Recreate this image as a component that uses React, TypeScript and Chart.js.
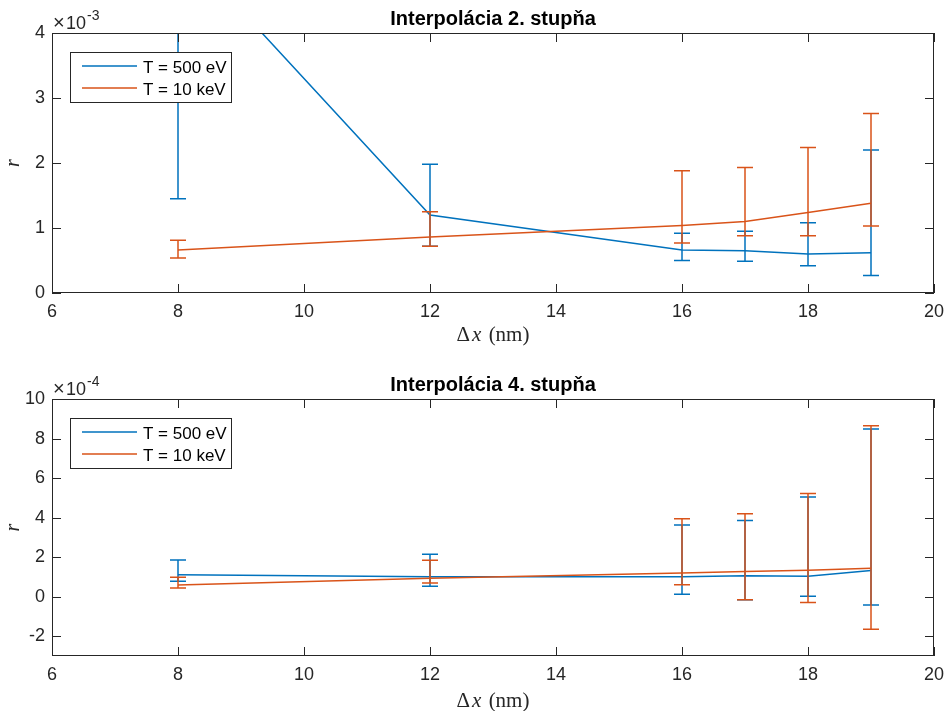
import React, { useEffect, useRef } from 'react';
import { Chart, registerables } from 'chart.js';

Chart.register(...registerables);

// ---------- data ----------
const X_VALUES = [8, 12, 16, 17, 18, 19];
const X_TICKS = [6, 8, 10, 12, 14, 16, 18, 20];
const LEGEND_LABELS = ['T = 500 eV', 'T = 10 keV'];
const SERIES_COLORS = ['#0072BD', '#D95319'];

// Interpolácia 2. stupňa (values in units of 10^-3)
const TITLE_DEG2 = 'Interpolácia 2. stupňa';
const Y_TICKS_DEG2 = [0, 1, 2, 3, 4];
const R500_DEG2 = [5.4, 1.2, 0.66, 0.65, 0.6, 0.62];
const R500_DEG2_LOW = [1.45, 0.72, 0.5, 0.49, 0.42, 0.27];
const R500_DEG2_HIGH = [9.35, 1.98, 0.92, 0.95, 1.08, 2.2];
const R10K_DEG2 = [0.66, 0.86, 1.04, 1.1, 1.24, 1.38];
const R10K_DEG2_LOW = [0.54, 0.72, 0.77, 0.88, 0.88, 1.03];
const R10K_DEG2_HIGH = [0.81, 1.25, 1.88, 1.93, 2.24, 2.76];

// Interpolácia 4. stupňa (values in units of 10^-4)
const TITLE_DEG4 = 'Interpolácia 4. stupňa';
const Y_TICKS_DEG4 = [-2, 0, 2, 4, 6, 8, 10];
const R500_DEG4 = [1.11, 1.01, 1.01, 1.06, 1.03, 1.32];
const R500_DEG4_LOW = [0.78, 0.53, 0.12, -0.15, 0.02, -0.42];
const R500_DEG4_HIGH = [1.86, 2.15, 3.63, 3.85, 5.04, 8.48];
const R10K_DEG4 = [0.59, 0.93, 1.2, 1.27, 1.34, 1.44];
const R10K_DEG4_LOW = [0.44, 0.69, 0.61, -0.15, -0.3, -1.65];
const R10K_DEG4_HIGH = [0.98, 1.84, 3.94, 4.19, 5.22, 8.65];

// ---------- styling ----------
const SANS = '"Liberation Sans", Arial, Helvetica, sans-serif';
const SERIF = '"Liberation Serif", "Times New Roman", serif';
const AXIS_COLOR = '#262626';
const TICK_LEN = 9;
const CAP_HALF = 8;

type Series = { values: number[]; low: number[]; high: number[] };
type Subplot = {
  title: string;
  exponent: string;
  yMin: number;
  yMax: number;
  yTicks: number[];
  series: Series[];
  height: number;
  areaTop: number;
  areaBottom: number;
  titleBaseline: number;
  xLabelBaseline: number;
};

const SUBPLOTS: Subplot[] = [
  {
    title: TITLE_DEG2,
    exponent: '-3',
    yMin: 0,
    yMax: 4,
    yTicks: Y_TICKS_DEG2,
    series: [
      { values: R500_DEG2, low: R500_DEG2_LOW, high: R500_DEG2_HIGH },
      { values: R10K_DEG2, low: R10K_DEG2_LOW, high: R10K_DEG2_HIGH },
    ],
    height: 355,
    areaTop: 33,
    areaBottom: 293,
    titleBaseline: 25,
    xLabelBaseline: 341,
  },
  {
    title: TITLE_DEG4,
    exponent: '-4',
    yMin: -3,
    yMax: 10,
    yTicks: Y_TICKS_DEG4,
    series: [
      { values: R500_DEG4, low: R500_DEG4_LOW, high: R500_DEG4_HIGH },
      { values: R10K_DEG4, low: R10K_DEG4_LOW, high: R10K_DEG4_HIGH },
    ],
    height: 356,
    areaTop: 44,
    areaBottom: 301,
    titleBaseline: 36,
    xLabelBaseline: 352,
  },
];

const errorBarPlugin = {
  id: 'errorBars',
  afterDatasetDraw(chart: any, args: any) {
    const ds = chart.data.datasets[args.index];
    const { ctx, chartArea, scales } = chart;
    ctx.save();
    ctx.beginPath();
    ctx.rect(chartArea.left, chartArea.top, chartArea.right - chartArea.left, chartArea.bottom - chartArea.top);
    ctx.clip();
    ctx.strokeStyle = ds.borderColor;
    ctx.lineWidth = ds.borderWidth;
    ds.data.forEach((p: any, i: number) => {
      const px = scales.x.getPixelForValue(p.x);
      const yl = scales.y.getPixelForValue(ds.errLow[i]);
      const yh = scales.y.getPixelForValue(ds.errHigh[i]);
      ctx.beginPath();
      ctx.moveTo(px, yl);
      ctx.lineTo(px, yh);
      ctx.moveTo(px - CAP_HALF, yl);
      ctx.lineTo(px + CAP_HALF, yl);
      ctx.moveTo(px - CAP_HALF, yh);
      ctx.lineTo(px + CAP_HALF, yh);
      ctx.stroke();
    });
    ctx.restore();
  },
};

function makeDecorPlugin(sp: Subplot) {
  return {
    id: 'decor',
    afterDraw(chart: any) {
      const { ctx, chartArea, scales } = chart;
      const { left, right, top, bottom } = chartArea;
      ctx.save();
      // box
      ctx.strokeStyle = AXIS_COLOR;
      ctx.lineWidth = 1;
      ctx.strokeRect(left + 0.5, top + 0.5, right - left - 1, bottom - top - 1);
      // ticks
      ctx.beginPath();
      scales.x.ticks.forEach((t: any) => {
        const px = Math.round(scales.x.getPixelForValue(t.value)) + 0.5;
        ctx.moveTo(px, bottom);
        ctx.lineTo(px, bottom - TICK_LEN);
        ctx.moveTo(px, top);
        ctx.lineTo(px, top + TICK_LEN);
      });
      scales.y.ticks.forEach((t: any) => {
        const py = Math.round(scales.y.getPixelForValue(t.value)) + 0.5;
        ctx.moveTo(left, py);
        ctx.lineTo(left + TICK_LEN, py);
        ctx.moveTo(right, py);
        ctx.lineTo(right - TICK_LEN, py);
      });
      ctx.stroke();

      const cx = (left + right) / 2;
      // title
      ctx.fillStyle = '#000';
      ctx.font = `bold 20px ${SANS}`;
      ctx.textAlign = 'center';
      ctx.textBaseline = 'alphabetic';
      ctx.fillText(sp.title, cx, sp.titleBaseline);

      // exponent label
      ctx.fillStyle = AXIS_COLOR;
      ctx.textAlign = 'left';
      const base = top - 4;
      ctx.font = `20px ${SANS}`;
      ctx.fillText('×', left + 1, base);
      ctx.font = `18px ${SANS}`;
      ctx.fillText('10', left + 14, base);
      ctx.font = `14px ${SANS}`;
      ctx.fillText(sp.exponent, left + 35, base - 9);

      // x axis label: Δx (nm)
      const fs = 21;
      const gap = 2;
      ctx.font = `${fs}px ${SERIF}`;
      const p1 = 'Δ';
      const p3 = '(nm)';
      const w1 = ctx.measureText(p1).width;
      const w3 = ctx.measureText(p3).width;
      const wsp = ctx.measureText(' ').width;
      ctx.font = `italic ${fs}px ${SERIF}`;
      const w2 = ctx.measureText('x').width;
      const total = w1 + gap + w2 + wsp + gap + w3;
      let sx = cx - total / 2;
      ctx.font = `${fs}px ${SERIF}`;
      ctx.fillText(p1, sx, sp.xLabelBaseline);
      sx += w1 + gap;
      ctx.font = `italic ${fs}px ${SERIF}`;
      ctx.fillText('x', sx, sp.xLabelBaseline);
      sx += w2 + wsp + gap;
      ctx.font = `${fs}px ${SERIF}`;
      ctx.fillText(p3, sx, sp.xLabelBaseline);

      // y axis label: r
      ctx.save();
      ctx.translate(19, (top + bottom) / 2);
      ctx.rotate(-Math.PI / 2);
      ctx.font = `italic 20px ${SERIF}`;
      ctx.textAlign = 'center';
      ctx.fillText('r', 0, 0);
      ctx.restore();

      // legend
      const lx = 70;
      const ly = top + 19;
      const lw = 161;
      const lh = 50;
      ctx.fillStyle = '#fff';
      ctx.fillRect(lx, ly, lw, lh);
      ctx.strokeStyle = AXIS_COLOR;
      ctx.lineWidth = 1;
      ctx.strokeRect(lx + 0.5, ly + 0.5, lw, lh);
      const rows = [ly + 14, ly + 36];
      chart.data.datasets.forEach((ds: any, i: number) => {
        const ry = rows[i];
        ctx.strokeStyle = ds.borderColor;
        ctx.lineWidth = 1.5;
        ctx.beginPath();
        ctx.moveTo(82, ry);
        ctx.lineTo(137, ry);
        ctx.stroke();
        ctx.fillStyle = '#000';
        ctx.font = `17px ${SANS}`;
        ctx.textAlign = 'left';
        ctx.textBaseline = 'alphabetic';
        ctx.fillText(ds.label, 143, ry + 7);
      });
      ctx.restore();
    },
  };
}

function createChart(canvas: HTMLCanvasElement, sp: Subplot) {
  return new Chart(canvas, {
    type: 'line',
    data: {
      datasets: sp.series.map((s, i) => ({
        label: LEGEND_LABELS[i],
        data: X_VALUES.map((x, j) => ({ x, y: s.values[j] })),
        errLow: s.low,
        errHigh: s.high,
        borderColor: SERIES_COLORS[i],
        backgroundColor: SERIES_COLORS[i],
        borderWidth: 1.5,
        pointRadius: 0,
        pointHoverRadius: 0,
        tension: 0,
        fill: false,
        order: 1 - i,
      })) as any,
    },
    options: {
      responsive: false,
      animation: false,
      events: [],
      layout: { padding: { top: sp.areaTop, left: 0, right: 12, bottom: 0 } },
      plugins: {
        legend: { display: false },
        title: { display: false },
        tooltip: { enabled: false },
      },
      scales: {
        x: {
          type: 'linear',
          min: 6,
          max: 20,
          grid: { display: false, drawTicks: false },
          border: { display: false },
          ticks: {
            color: AXIS_COLOR,
            font: { family: SANS, size: 18 },
            padding: 8,
            autoSkip: false,
            maxRotation: 0,
            callback: (v: any) => String(v),
          },
          afterBuildTicks: (s: any) => {
            s.ticks = X_TICKS.map((v) => ({ value: v }));
          },
          afterFit: (s: any) => {
            s.height = sp.height - sp.areaBottom;
            s.paddingLeft = 0;
            s.paddingRight = 0;
          },
        },
        y: {
          type: 'linear',
          min: sp.yMin,
          max: sp.yMax,
          grid: { display: false, drawTicks: false },
          border: { display: false },
          ticks: {
            color: AXIS_COLOR,
            font: { family: SANS, size: 18 },
            padding: 7,
            autoSkip: false,
            callback: (v: any) => String(v),
          },
          afterBuildTicks: (s: any) => {
            s.ticks = sp.yTicks.map((v) => ({ value: v }));
          },
          afterFit: (s: any) => {
            s.width = 52;
            s.paddingTop = 0;
            s.paddingBottom = 0;
          },
        },
      },
    } as any,
    plugins: [errorBarPlugin, makeDecorPlugin(sp)],
  });
}

export default function App() {
  const topRef = useRef<HTMLCanvasElement>(null);
  const bottomRef = useRef<HTMLCanvasElement>(null);

  useEffect(() => {
    const charts: Chart[] = [];
    if (topRef.current) charts.push(createChart(topRef.current, SUBPLOTS[0]));
    if (bottomRef.current) charts.push(createChart(bottomRef.current, SUBPLOTS[1]));
    return () => charts.forEach((c) => c.destroy());
  }, []);

  return (
    <div style={{ position: 'absolute', left: 0, top: 0, width: 946, height: 711, background: '#fff' }}>
      <canvas ref={topRef} width={946} height={SUBPLOTS[0].height} style={{ display: 'block', width: 946, height: SUBPLOTS[0].height }} />
      <canvas ref={bottomRef} width={946} height={SUBPLOTS[1].height} style={{ display: 'block', width: 946, height: SUBPLOTS[1].height }} />
    </div>
  );
}
